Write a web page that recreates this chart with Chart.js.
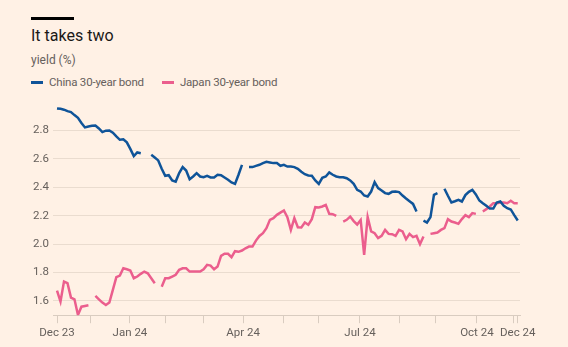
<!DOCTYPE html>
<html>
<head>
<meta charset="utf-8">
<script src="https://cdn.jsdelivr.net/npm/chart.js@4.4.1/dist/chart.umd.min.js"></script>
<style>
  html, body { margin: 0; padding: 0; background: #fff1e5; }
  body { width: 568px; height: 347px; position: relative; overflow: hidden; font-family: Roboto, "Noto Sans", sans-serif; }
  #bar { position: absolute; left: 31px; top: 17px; width: 43px; height: 3px; background: #000; }
  #title { position: absolute; left: 31px; top: 27px; font-size: 16px; line-height: 18px; color: #1a1817; }
  #sub { position: absolute; left: 31px; top: 53px; font-size: 12px; line-height: 14px; color: #66605c; }
  #legend { position: absolute; left: 31px; top: 75px; font-size: 11.5px; line-height: 14px; color: #66605c; display: flex; letter-spacing: -0.2px; }
  #legend span.item { display: flex; align-items: center; margin-right: 18px; }
  #legend span.sw { display: inline-block; width: 12px; height: 3px; margin-right: 6px; }
  #wrap { position: absolute; left: 0; top: 0; width: 568px; height: 347px; }
</style>
</head>
<body>
<div id="bar"></div>
<div id="title">It takes two</div>
<div id="sub">yield (%)</div>
<div id="legend"></div>
<div id="wrap"><canvas id="chart"></canvas></div>
<script>
"use strict";

// trading-day samples, one value every ~2 trading days, null = no data
const seriesNames = ["China 30-year bond", "Japan 30-year bond"];
const seriesColors = ["#0f5499", "#eb5e8d"];

const china = [
  2.955, 2.952, 2.946, 2.936, 2.929, 2.908, 2.889, 2.852, 2.821, 2.828,
  2.833, 2.835, 2.814, 2.788, 2.798, 2.800, 2.784, 2.758, 2.734, 2.737,
  2.716, 2.670, 2.620, 2.645, 2.640, null, null, 2.629, 2.610, 2.589,
  2.530, 2.481, 2.485, 2.448, 2.440, 2.500, 2.542, 2.518, 2.457, 2.476,
  2.499, 2.476, 2.471, 2.480, 2.469, 2.469, 2.488, 2.485, 2.469, 2.453,
  2.434, 2.424, 2.488, 2.558, null, 2.542, 2.542, 2.551, 2.558, 2.570,
  2.579, 2.575, 2.570, 2.570, 2.551, 2.558, 2.546, 2.546, 2.542, 2.530,
  2.509, 2.492, 2.483, 2.481, 2.448, 2.424, 2.467, 2.476, 2.504, 2.488,
  2.476, 2.471, 2.471, 2.464, 2.448, 2.424, 2.382, 2.370, 2.342, 2.335,
  2.370, 2.436, 2.394, 2.378, 2.359, 2.354, 2.368, 2.370, 2.366, 2.342,
  2.321, 2.302, 2.283, 2.230, null, 2.166, 2.152, 2.190, 2.347, 2.359,
  null, 2.390, 2.340, 2.293, 2.302, 2.312, 2.300, 2.345, 2.368, 2.382,
  2.350, 2.307, 2.288, 2.270, 2.250, 2.250, 2.293, 2.300, 2.270, 2.253,
  2.244, 2.204, 2.166
];

const japan = [
  1.673, 1.596, 1.737, 1.725, 1.624, 1.612, 1.502, 1.560, 1.565, 1.570,
  null, 1.636, 1.612, 1.589, 1.572, 1.589, 1.678, 1.767, 1.779, 1.830,
  1.823, 1.814, 1.760, 1.772, 1.791, 1.807, 1.795, 1.760, 1.725, null,
  1.700, 1.760, 1.760, 1.772, 1.784, 1.819, 1.830, 1.830, 1.807, 1.807,
  1.807, 1.807, 1.823, 1.854, 1.849, 1.823, 1.842, 1.917, 1.932, 1.932,
  1.908, 1.950, 1.946, 1.955, 1.971, 1.983, 1.983, 2.025, 2.058, 2.077,
  2.112, 2.171, 2.183, 2.206, 2.222, 2.237, 2.190, 2.100, 2.183, 2.119,
  2.117, 2.152, 2.136, 2.176, 2.260, 2.258, 2.265, 2.276, 2.213, 2.211,
  2.199, null, 2.159, 2.171, 2.194, 2.162, 2.138, 2.170, 1.925, 2.190,
  2.090, 2.077, 2.042, 2.058, 2.100, 2.072, 2.070, 2.058, 2.100, 2.089,
  2.035, 2.072, 2.049, 2.058, 2.000, 2.054, null, 2.072, 2.077, 2.082,
  2.100, 2.112, 2.176, 2.159, 2.152, 2.143, 2.176, 2.204, 2.190, 2.218,
  2.213, null, 2.230, 2.246, 2.265, 2.288, 2.288, 2.293, 2.293, 2.288,
  2.305, 2.288, 2.288
];

// x tick positions (in sample units) and their labels
const tickPos  = [0, 9.7, 20.9, 31.2, 42.1, 53.3, 64.8, 74.8, 86.8, 98, 108.3, 120.3, 130.9, 132];
const tickText = ["Dec 23", "", "Jan 24", "", "", "Apr 24", "", "", "Jul 24", "", "", "Oct 24", "", "Dec 24"];
const yTicks   = [1.6, 1.8, 2.0, 2.2, 2.4, 2.6, 2.8];

const days = china.map((_, i) => i);

// legend
const legendEl = document.getElementById("legend");
seriesNames.forEach((name, i) => {
    const item = document.createElement("span");
    item.className = "item";
    item.innerHTML = `<span class="sw" style="background:${seriesColors[i]}"></span>${name}`;
    legendEl.appendChild(item);
});

const gridColor = "#eadccf";
const axisColor = "#d9ccc0";
const tickColor = "#66605c";

new Chart(document.getElementById("chart"), {
    type: "line",
    data: {
        labels: days,
        datasets: [
            { label: seriesNames[0], data: china, borderColor: seriesColors[0], borderWidth: 2.5, pointRadius: 0, tension: 0 },
            { label: seriesNames[1], data: japan, borderColor: seriesColors[1], borderWidth: 2.5, pointRadius: 0, tension: 0 }
        ]
    },
    options: {
        responsive: true,
        maintainAspectRatio: false,
        animation: false,
        events: [],
        layout: { padding: { left: 0, right: 48, top: 102, bottom: 4 } },
        plugins: { legend: { display: false }, tooltip: { enabled: false } },
        scales: {
            x: {
                type: "linear",
                min: -1.15,
                max: 132.65,
                afterBuildTicks: (scale) => { scale.ticks = tickPos.map(v => ({ value: v })); },
                ticks: {
                    autoSkip: false,
                    maxRotation: 0,
                    color: tickColor,
                    font: { family: "Roboto", size: 11.5 },
                    padding: 3,
                    callback: (v, i) => tickText[i]
                },
                grid: { drawOnChartArea: false, drawTicks: true, tickLength: 8, color: axisColor },
                border: { display: true, color: axisColor }
            },
            y: {
                min: 1.5,
                max: 3.0,
                afterBuildTicks: (scale) => { scale.ticks = yTicks.map(v => ({ value: v })); },
                afterFit: (scale) => { scale.width = 53; },
                ticks: {
                    color: tickColor,
                    font: { family: "Roboto", size: 11.5 },
                    padding: 4,
                    callback: (v) => v.toFixed(1)
                },
                grid: { drawTicks: false, color: gridColor },
                border: { display: false }
            }
        }
    }
});
</script>
</body>
</html>
